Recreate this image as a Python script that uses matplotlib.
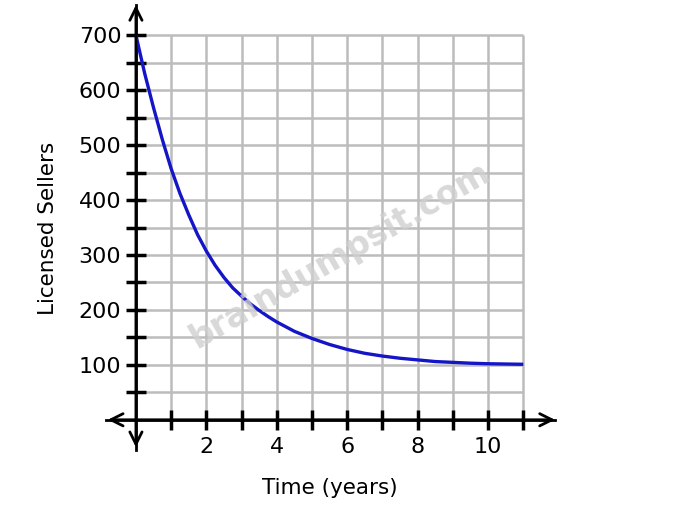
import matplotlib
matplotlib.use("Agg")
import matplotlib.pyplot as plt
from matplotlib.ticker import MultipleLocator

# values
years = [0, 0.25, 0.5, 0.75, 1, 1.25, 1.5, 1.75, 2, 2.25, 2.5, 2.75, 3,
         3.25, 3.5, 3.75, 4, 4.5, 5, 5.5, 6, 6.5, 7, 7.5, 8, 8.5, 9, 9.5,
         10, 10.5, 11]
sellers = [700, 630, 568, 510, 457, 412, 373, 337, 307, 281, 259, 240, 225,
           211, 199, 188, 178, 161, 148, 137, 128, 121, 116, 112, 109, 106,
           104.5, 103, 102, 101.5, 101]

x_labels = [2, 4, 6, 8, 10]
y_labels = [100, 200, 300, 400, 500, 600, 700]
x_grid = list(range(1, 12))
y_grid = list(range(50, 701, 50))

XMIN, XMAX = -0.85, 11.9
YMIN, YMAX = -55, 755

fig = plt.figure(figsize=(6.83, 5.08), dpi=100)
ax = fig.add_axes([106 / 683, 1 - 450 / 508, (555 - 106) / 683, (450 - 5) / 508])
ax.set_xlim(XMIN, XMAX)
ax.set_ylim(YMIN, YMAX)

# grid only inside the first quadrant
ax.vlines(x_grid, 0, 700, color="#bcbcbc", lw=1.8, zorder=1)
ax.hlines(y_grid, 0, 11, color="#bcbcbc", lw=1.8, zorder=1)

ax.plot(years, sellers, color="#1515c8", lw=2.4, zorder=4,
        solid_joinstyle="round", solid_capstyle="butt")

# axes through the origin
for side in ["top", "right"]:
    ax.spines[side].set_visible(False)
for side in ["left", "bottom"]:
    ax.spines[side].set_position(("data", 0))
    ax.spines[side].set_linewidth(2)
    ax.spines[side].set_zorder(3)

ax.set_xticks(x_labels)
ax.set_yticks(y_labels)
ax.set_xticks(x_grid, minor=True)
ax.set_yticks(y_grid, minor=True)
ax.tick_params(which="both", direction="inout", length=15, width=2.5, color="black")
ax.tick_params(axis="x", labelsize=16, pad=5)
ax.tick_params(axis="y", labelsize=16, pad=3)

# arrowheads on both axes
arrow = dict(arrowstyle="<->", lw=2, color="black", mutation_scale=22,
             shrinkA=0, shrinkB=0)
ax.annotate("", xy=(XMAX, 0), xytext=(XMIN + 0.05, 0), arrowprops=arrow, zorder=5)
ax.annotate("", xy=(0, YMAX), xytext=(0, YMIN + 5), arrowprops=arrow, zorder=5)

fig.text(48 / 683, 1 - 228 / 508, "Licensed Sellers", rotation=90,
         ha="center", va="center", fontsize=15.5)
fig.text(330 / 683, 1 - 488 / 508, "Time (years)", ha="center", va="center",
         fontsize=15.5)

# watermark
fig.text(340 / 683, 1 - 255 / 508, "braindumpsit.com", rotation=30,
         ha="center", va="center", fontsize=24, fontweight="bold",
         color="#cfcfcf", alpha=0.8, zorder=10)

fig.savefig("out.png", dpi=100)
